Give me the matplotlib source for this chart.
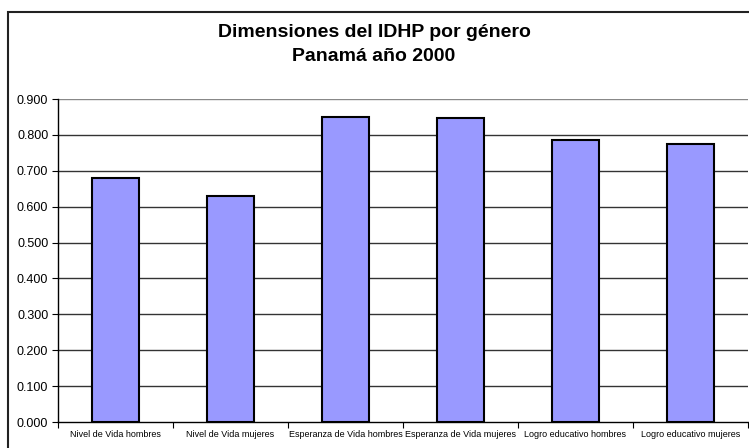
import matplotlib.pyplot as plt
import numpy as np
from matplotlib.patches import Rectangle

# --- Data ---
categories = [
    'Nivel de Vida hombres', 'Nivel de Vida mujeres',
    'Esperanza de Vida hombres', 'Esperanza de Vida mujeres',
    'Logro educativo hombres', 'Logro educativo mujeres',
]
values = [0.680, 0.630, 0.850, 0.847, 0.785, 0.775]
yticks = [0.0, 0.1, 0.2, 0.3, 0.4, 0.5, 0.6, 0.7, 0.8, 0.9]
title = 'Dimensiones del IDHP por género\nPanamá año 2000'

plt.rcParams['font.family'] = ['Liberation Sans', 'DejaVu Sans']

fig = plt.figure(figsize=(7.49, 4.48), dpi=100)

# outer chart frame (cropped on right/bottom like the original)
fig.patches.append(Rectangle((8 / 749, -0.05), 1.0, (448 - 12) / 448 + 0.05,
                             transform=fig.transFigure, fill=False,
                             edgecolor='#222222', linewidth=1.5, zorder=0))

ax = fig.add_axes([58 / 749, 26 / 448, 690 / 749, 323 / 448])

x = np.arange(len(categories))
ax.bar(x, values, width=0.41, color='#9999ff', edgecolor='black',
       linewidth=1.5, zorder=3)

ax.set_xlim(-0.5, len(categories) - 0.5)
ax.set_ylim(0, 0.9)
ax.set_yticks(yticks)
ax.set_yticklabels([f'{v:.3f}' for v in yticks], fontsize=9)
for v in yticks[1:]:
    ax.axhline(v, color='#333333' if v < 0.9 else '#888888', linewidth=1, zorder=1)

# category labels centered, tick marks at boundaries
ax.set_xticks(np.arange(len(categories) + 1) - 0.5)
ax.set_xticklabels([])
ax.set_xticks(x, minor=True)
ax.set_xticklabels(categories, minor=True, fontsize=6.5)
ax.tick_params(axis='x', which='minor', length=0, pad=6)
ax.tick_params(axis='x', which='major', length=4, direction='out')
ax.tick_params(axis='y', length=4, direction='out', pad=3)

for side in ['top', 'right']:
    ax.spines[side].set_visible(False)
ax.spines['left'].set_linewidth(1)
ax.spines['bottom'].set_linewidth(1)

fig.suptitle(title, x=374 / 749, y=1 - 24 / 448, fontsize=14,
             fontweight='bold', va='top', linespacing=1.55)

fig.savefig('out.png', dpi=100)
